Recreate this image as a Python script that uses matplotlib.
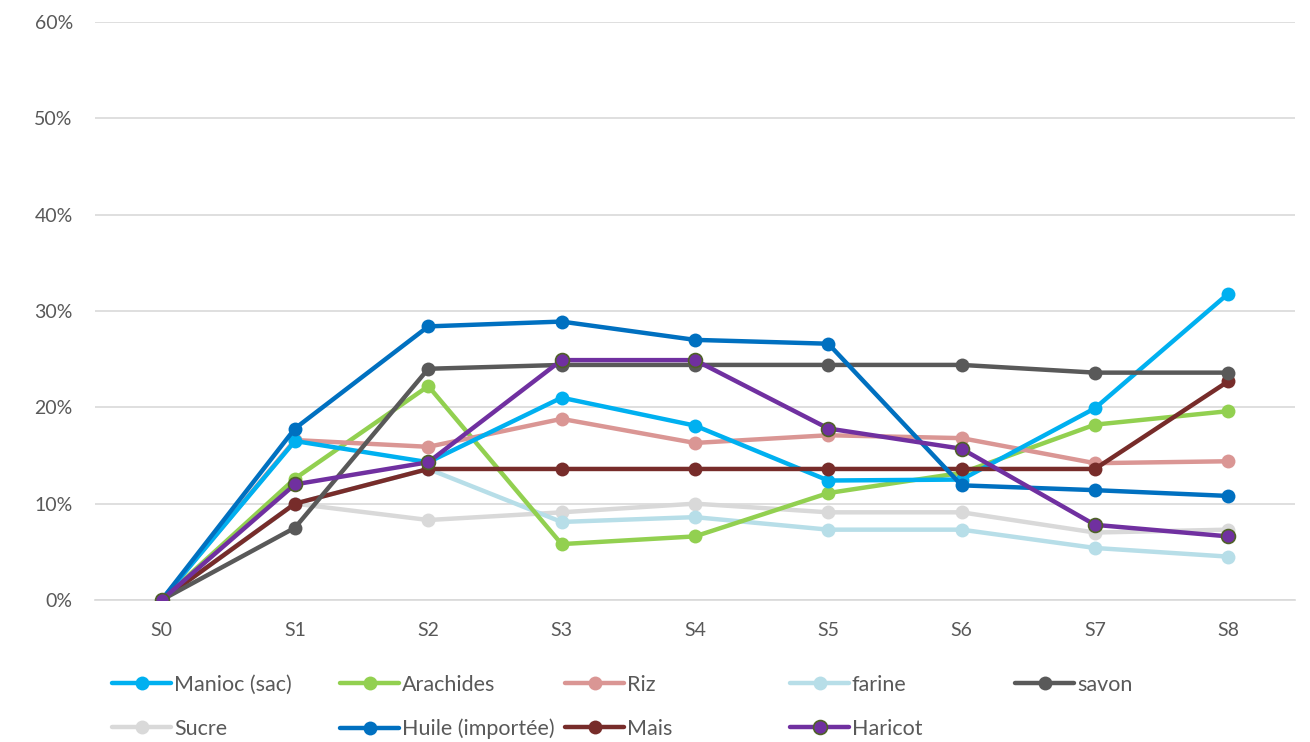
import matplotlib.pyplot as plt
from matplotlib.ticker import PercentFormatter

plt.rcParams['font.family'] = ['Lato', 'DejaVu Sans']

# semaines
semaines = ['S0', 'S1', 'S2', 'S3', 'S4', 'S5', 'S6', 'S7', 'S8']

# hausse des prix par produit (%)
manioc = [0, 16.5, 14.3, 21.0, 18.1, 12.4, 12.5, 19.9, 31.8]
arachides = [0, 12.6, 22.2, 5.8, 6.6, 11.1, 13.2, 18.2, 19.6]
riz = [0, 16.6, 15.9, 18.8, 16.3, 17.1, 16.8, 14.2, 14.4]
farine = [0, 10.0, 13.6, 8.1, 8.6, 7.3, 7.3, 5.4, 4.5]
savon = [0, 7.5, 24.0, 24.4, 24.4, 24.4, 24.4, 23.6, 23.6]
sucre = [0, 10.0, 8.3, 9.1, 10.0, 9.1, 9.1, 7.0, 7.3]
huile = [0, 17.8, 28.4, 28.9, 27.0, 26.6, 11.9, 11.4, 10.8]
mais = [0, 10.0, 13.6, 13.6, 13.6, 13.6, 13.6, 13.6, 22.7]
haricot = [0, 12.0, 14.3, 24.9, 24.9, 17.8, 15.7, 7.8, 6.6]

noms = ['Manioc (sac)', 'Arachides', 'Riz', 'farine', 'savon',
        'Sucre', 'Huile (importée)', 'Mais', 'Haricot']
series = [manioc, arachides, riz, farine, savon, sucre, huile, mais, haricot]
couleurs = ['#00B0F0', '#92D050', '#DA9694', '#B7DEE8', '#595959',
            '#D9D9D9', '#0070C0', '#772C2A', '#7030A0']
bords = couleurs[:8] + ['#4F6228']

# ordre de dessin : les premières séries en dessous
ordre = [5, 3, 1, 2, 0, 7, 4, 6, 8]

fig = plt.figure(figsize=(13.1, 7.42), dpi=100)
ax = fig.add_axes([0.0725, 0.1914, 0.916, 0.779])

x = range(len(semaines))
lignes = {}
for i in ordre:
    l, = ax.plot(x, series[i], color=couleurs[i], lw=3.2, marker='o', ms=10,
                 mfc=couleurs[i], mec=bords[i], mew=1.2 if i == 8 else 0,
                 solid_capstyle='round', zorder=3 + ordre.index(i))
    lignes[i] = l

ax.set_xlim(-0.5, 8.5)
ax.set_ylim(0, 60)
ax.set_yticks(range(0, 61, 10))
ax.yaxis.set_major_formatter(PercentFormatter(decimals=0))
ax.set_xticks(list(x))
ax.set_xticklabels(semaines)
ax.grid(axis='y', color='#D9D9D9', lw=1.2)
ax.set_axisbelow(True)
for s in ['top', 'right', 'left']:
    ax.spines[s].set_visible(False)
ax.spines['bottom'].set_color('#D9D9D9')
ax.spines['bottom'].set_linewidth(1.2)
ax.tick_params(axis='both', length=0, colors='#595959', labelsize=14)
ax.tick_params(axis='y', pad=16)
ax.tick_params(axis='x', pad=16)

# légende : 5 colonnes à largeur fixe
col_x = [112, 340, 565, 790, 1015]
row_y = [685, 729]
for k in range(len(noms)):
    px = col_x[k % 5]
    py = row_y[k // 5]
    fig.legend(handles=[lignes[k]], labels=[noms[k]], loc='center left',
               bbox_to_anchor=(px / 1310, 1 - py / 742), frameon=False,
               borderpad=0, borderaxespad=0, handlelength=2.75,
               handletextpad=0.12, fontsize=15.5, labelcolor='#595959')

fig.savefig('out.png', dpi=100)
